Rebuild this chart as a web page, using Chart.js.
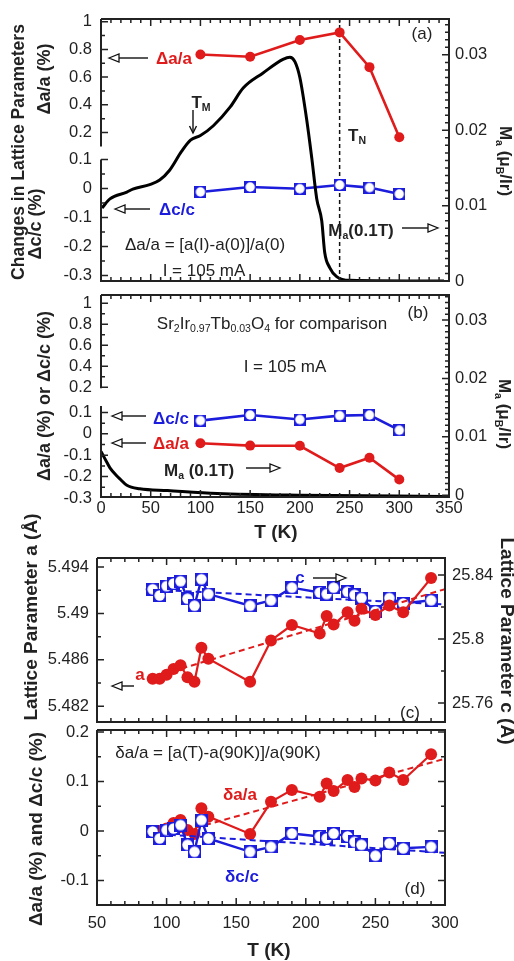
<!DOCTYPE html>
<html lang="en">
<head>
<meta charset="UTF-8">
<title>Lattice parameters under current</title>
<style>
  body { margin: 0; background: #fff; font-family: "Liberation Sans", Arial, sans-serif; color: #222; }
  #fig { position: relative; width: 514px; height: 961px; overflow: hidden; background: #fff; }
  .box { position: absolute; left: 0; width: 514px; }
  .t { position: absolute; white-space: nowrap; line-height: 1; font-size: 17px; transform: translate(-50%, -50%); }
  .b { font-weight: bold; }
  .ttl { font-weight: bold; font-size: 18px; }
  .up { transform: translate(-50%, -50%) rotate(-90deg); }
  .dn { transform: translate(-50%, -50%) rotate(90deg); }
  .red { color: #e01b1b; }
  .blue { color: #1c1cdc; }
  sub { font-size: 0.62em; vertical-align: -0.35em; line-height: 0; }
  svg { position: absolute; left: 0; top: 0; }
</style>
</head>
<body>
<div id="fig">
  <div class="box" style="top:0;height:300px"><canvas id="ca"></canvas></div>
  <div class="box" style="top:276px;height:254px"><canvas id="cb"></canvas></div>
  <div class="box" style="top:540px;height:200px"><canvas id="cc"></canvas></div>
  <div class="box" style="top:710px;height:225px"><canvas id="cd"></canvas></div>
  <svg id="arrows" width="514" height="961"></svg>

  <!-- panel (a) -->
  <div class="t ttl up" style="left:19px;top:152px;font-size:17.5px">Changes in Lattice Parameters</div>
  <div class="t ttl up" style="left:44px;top:79px">Δa/a (%)</div>
  <div class="t ttl up" style="left:35px;top:224px">Δc/c (%)</div>
  <div class="t" style="left:422px;top:33px">(a)</div>
  <div class="t b red" style="left:174px;top:58px">Δa/a</div>
  <div class="t b blue" style="left:177px;top:209px">Δc/c</div>
  <div class="t b" style="left:201px;top:102px">T<sub>M</sub></div>
  <div class="t b" style="left:357px;top:135px">T<sub>N</sub></div>
  <div class="t b" style="left:361px;top:230px">M<sub>a</sub>(0.1T)</div>
  <div class="t" style="left:205px;top:244px">Δa/a = [a(I)-a(0)]/a(0)</div>
  <div class="t" style="left:204px;top:270px">I = 105 mA</div>
  <div class="t b dn" style="left:505px;top:161px">M<sub>a</sub> (μ<sub>B</sub>/Ir)</div>

  <!-- panel (b) -->
  <div class="t ttl up" style="left:44px;top:396px">Δa/a (%) or Δc/c (%)</div>
  <div class="t" style="left:418px;top:312px">(b)</div>
  <div class="t" style="left:272px;top:323px">Sr<sub>2</sub>Ir<sub>0.97</sub>Tb<sub>0.03</sub>O<sub>4</sub> for comparison</div>
  <div class="t" style="left:285px;top:366px">I = 105 mA</div>
  <div class="t b blue" style="left:171px;top:418px">Δc/c</div>
  <div class="t b red" style="left:171px;top:443px">Δa/a</div>
  <div class="t b" style="left:199px;top:470px">M<sub>a</sub> (0.1T)</div>
  <div class="t b dn" style="left:504px;top:414px">M<sub>a</sub> (μ<sub>B</sub>/Ir)</div>
  <div class="t b" style="left:276px;top:531px;font-size:19px">T (K)</div>

  <!-- panel (c) -->
  <div class="t ttl up" style="left:30px;top:617px;font-size:19px">Lattice Parameter a (Å)</div>
  <div class="t ttl dn" style="left:507px;top:641px;font-size:19px">Lattice Parameter c (Å)</div>
  <div class="t b blue" style="left:300px;top:577px">c</div>
  <div class="t b red" style="left:140px;top:674px">a</div>
  <div class="t" style="left:410px;top:712px">(c)</div>

  <!-- panel (d) -->
  <div class="t ttl up" style="left:35px;top:829px;font-size:19px">Δa/a (%) and Δc/c (%)</div>
  <div class="t" style="left:218px;top:752px">δa/a = [a(T)-a(90K)]/a(90K)</div>
  <div class="t b red" style="left:240px;top:794px">δa/a</div>
  <div class="t b blue" style="left:242px;top:876px">δc/c</div>
  <div class="t" style="left:415px;top:888px">(d)</div>
  <div class="t b" style="left:269px;top:949px;font-size:19px">T (K)</div>
</div>

<script src="https://cdn.jsdelivr.net/npm/chart.js"></script>
<script>
  // ---- panel (a): Sr2IrO4, I = 105 mA
  const tA = [100, 150, 200, 240, 270, 300];
  const daA = [0.763, 0.747, 0.868, 0.923, 0.672, 0.166];
  const dcA = [-0.012, 0.005, -0.001, 0.012, 0.003, -0.019];
  const magTA = [1, 9, 26, 32, 49, 59, 69, 81, 90, 100, 113, 130, 143, 163, 183, 190, 195, 200, 207, 212, 217, 222, 225, 230, 237, 250, 345];
  const magA = [0.0097, 0.0109, 0.0118, 0.0122, 0.0128, 0.0134, 0.0147, 0.0172, 0.0187, 0.0193, 0.0206, 0.0231, 0.0256, 0.0276, 0.0294, 0.0297, 0.0291, 0.0270, 0.0213, 0.0163, 0.0109, 0.0080, 0.0038, 0.0018, 0.0006, 0.0001, 0];
  const tN = 240;

  // ---- panel (b): Sr2Ir0.97Tb0.03O4, I = 105 mA
  const tB = [100, 150, 200, 240, 270, 300];
  const daB = [-0.044, -0.055, -0.056, -0.160, -0.112, -0.214];
  const dcB = [0.062, 0.088, 0.067, 0.085, 0.088, 0.017];
  const magTB = [0, 6, 9, 16, 19, 26, 39, 67, 117, 201, 345];
  const magB = [0.0075, 0.0056, 0.0047, 0.0033, 0.0028, 0.0017, 0.0011, 0.0008, 0.0003, 0, -0.0002];

  // ---- panels (c) and (d): temperature scans
  const tC = [90, 95, 100, 105, 110, 115, 120, 125, 130, 160, 175, 190, 210, 215, 220, 230, 235, 240, 250, 260, 270, 290];
  const aC = [5.48437, 5.48437, 5.48472, 5.48521, 5.48554, 5.4845, 5.4841, 5.48704, 5.48609, 5.4841, 5.48767, 5.489, 5.48827, 5.48978, 5.48904, 5.4901, 5.48937, 5.4904, 5.48986, 5.49068, 5.4901, 5.49305];
  const cC = [25.8311, 25.8272, 25.8331, 25.8347, 25.8361, 25.8252, 25.8208, 25.8374, 25.8281, 25.8208, 25.8242, 25.8321, 25.8291, 25.8281, 25.8321, 25.8295, 25.8276, 25.8256, 25.8173, 25.8256, 25.8222, 25.8242];
  const aFitT = [90, 300], aFit = [5.4845, 5.4921];
  const cFitT = [85, 300], cFit = [25.8311, 25.8216];
  const daD = [0, 0, 0.005, 0.016, 0.022, 0.002, -0.006, 0.046, 0.029, -0.006, 0.059, 0.083, 0.069, 0.096, 0.081, 0.103, 0.089, 0.106, 0.102, 0.118, 0.103, 0.155];
  const dcD = [-0.001, -0.015, 0.002, 0.005, 0.012, -0.028, -0.042, 0.022, -0.015, -0.042, -0.032, -0.005, -0.011, -0.015, -0.005, -0.011, -0.022, -0.028, -0.05, -0.025, -0.035, -0.032];
  const daFitT = [93, 300], daFit = [-0.015, 0.146];
  const dcFitT = [88, 300], dcFit = [-0.005, -0.044];

  // ---- tick labels
  const xTopMajors = [0, 50, 100, 150, 200, 250, 300, 350];
  const xTopLabels = ['0', '50', '100', '150', '200', '250', '300', '350'];
  const xBotMajors = [50, 100, 150, 200, 250, 300];
  const xBotLabels = ['50', '100', '150', '200', '250', '300'];
  const brkMajors = [-0.3, -0.2, -0.1, 0, 0.1, 0.2, 0.4, 0.6, 0.8, 1];
  const brkLabels = ['-0.3', '-0.2', '-0.1', '0', '0.1', '0.2', '0.4', '0.6', '0.8', '1'];
  const magMajors = [0, 0.01, 0.02, 0.03];
  const magLabels = ['0', '0.01', '0.02', '0.03'];
  const aMajors = [5.482, 5.486, 5.49, 5.494];
  const aLabels = ['5.482', '5.486', '5.49', '5.494'];
  const cMajors = [25.76, 25.8, 25.84];
  const cLabels = ['25.76', '25.8', '25.84'];
  const dMajors = [-0.1, 0, 0.1, 0.2];
  const dLabels = ['-0.1', '0', '0.1', '0.2'];

  const RED = '#e01b1b', BLUE = '#1c1cdc', INK = '#222';
  const FONT = { family: '"Liberation Sans", Arial, sans-serif', size: 16.5 };

  // where the two pieces of the broken left axis sit (fraction of plot height)
  const BREAKS = {
    ca: { cut: 0.15, hi: [1, 0.2, 0.0108, 0.4332], lo: [0.1, -0.3, 0.5361, 0.9783], gap: [0.145, 0.1] },
    cb: { cut: 0.15, hi: [1, 0.2, 0.0409, 0.4567], lo: [0.1, -0.3, 0.5817, 1.0048], gap: [0.19, 0.13] }
  };

  class BrokenScale extends Chart.LinearScale {
    static id = 'broken';
    getPixelForValue(v) {
      const b = BREAKS[this.chart.canvas.id];
      const [v0, v1, f0, f1] = v >= b.cut ? b.hi : b.lo;
      return this.top + (f0 + (f1 - f0) * (v0 - v) / (v0 - v1)) * this.height;
    }
    getValueForPixel(p) {
      const b = BREAKS[this.chart.canvas.id];
      const f = (p - this.top) / this.height;
      const [v0, v1, f0, f1] = f <= (b.hi[3] + b.lo[2]) / 2 ? b.hi : b.lo;
      return v0 - (f - f0) * (v0 - v1) / (f1 - f0);
    }
  }
  Chart.register(BrokenScale);

  function tickList(segs, majors, labels) {
    const out = [];
    segs.forEach(([lo, hi, step]) => {
      for (let k = Math.ceil(lo / step - 1e-6); k * step <= hi + 1e-9; k++) {
        const v = +(k * step).toFixed(6);
        const m = majors.findIndex(u => Math.abs(u - v) < 1e-7);
        out.push({ value: v, major: m >= 0, lbl: m >= 0 ? labels[m] : '' });
      }
    });
    return out;
  }

  // inward tick marks and the frame round each plot
  const framePlugin = {
    id: 'frame',
    afterDatasetsDraw(chart) {
      const { ctx, chartArea: a, scales } = chart;
      ctx.save();
      ctx.strokeStyle = INK;
      ctx.lineWidth = 1.5;
      ctx.beginPath();
      Object.values(scales).forEach(s => {
        s.ticks.forEach(t => {
          const p = s.getPixelForValue(t.value);
          const L = t.major ? 7 : 4;
          if (s.axis === 'x') {
            if (p < a.left - 0.5 || p > a.right + 0.5) return;
            ctx.moveTo(p, a.bottom); ctx.lineTo(p, a.bottom - L);
            ctx.moveTo(p, a.top); ctx.lineTo(p, a.top + L);
          } else {
            if (p < a.top - 0.5 || p > a.bottom + 0.5) return;
            if (s.position === 'left') {
              ctx.moveTo(a.left, p); ctx.lineTo(a.left + L, p);
              if (s.options.mirrorTicks) { ctx.moveTo(a.right, p); ctx.lineTo(a.right - L, p); }
            } else {
              ctx.moveTo(a.right, p); ctx.lineTo(a.right - L, p);
            }
          }
        });
      });
      ctx.stroke();
      ctx.lineWidth = 2;
      ctx.beginPath();
      ctx.moveTo(a.left, a.top); ctx.lineTo(a.right, a.top);
      ctx.lineTo(a.right, a.bottom); ctx.lineTo(a.left, a.bottom);
      const b = BREAKS[chart.canvas.id];
      if (b) {
        ctx.lineTo(a.left, scales.y.getPixelForValue(b.gap[1]));
        ctx.moveTo(a.left, scales.y.getPixelForValue(b.gap[0]));
      }
      ctx.lineTo(a.left, a.top);
      ctx.stroke();
      ctx.restore();
    }
  };

  function axisBase(ticks, show, pad) {
    return {
      grid: { display: false, drawTicks: false },
      border: { display: false },
      ticks: { display: show, autoSkip: false, maxRotation: 0, padding: pad, font: FONT, color: INK,
               callback: (v, i, t) => t[i].lbl },
      afterBuildTicks: s => { s.ticks = ticks.map(t => Object.assign({}, t)); }
    };
  }
  function xAxis(min, max, ticks, height, show, pad) {
    return Object.assign(axisBase(ticks, show, pad), {
      type: 'linear', position: 'bottom', min, max, afterFit: s => { s.height = height; }
    });
  }
  function yAxis(type, pos, min, max, ticks, width, pad, mirror) {
    return Object.assign(axisBase(ticks, true, pad), {
      type, position: pos, min, max, mirrorTicks: !!mirror, afterFit: s => { s.width = width; }
    });
  }

  const pts = (xs, ys) => xs.map((x, i) => ({ x, y: ys[i] }));

  function openMark(s) {
    const c = document.createElement('canvas');
    c.width = c.height = s;
    const g = c.getContext('2d');
    g.fillStyle = BLUE;
    g.fillRect(0, 0, s, s);
    g.fillStyle = '#fff';
    g.beginPath(); g.arc(s / 2, s / 2, s / 2 - 1.3, 0, Math.PI * 2); g.fill();
    return c;
  }
  const markAB = openMark(12), markCD = openMark(13);

  const dots = (xs, ys, axis, r, w) => ({
    data: pts(xs, ys), yAxisID: axis, borderColor: RED, borderWidth: w,
    pointRadius: r, pointBackgroundColor: RED, pointBorderWidth: 0
  });
  const boxes = (xs, ys, axis, mark, w) => ({
    data: pts(xs, ys), yAxisID: axis, borderColor: BLUE, borderWidth: w,
    pointStyle: mark, pointRadius: 6
  });
  const dashed = (xs, ys, axis, color) => ({
    data: pts(xs, ys), yAxisID: axis, borderColor: color, borderWidth: 2,
    borderDash: [6, 4], pointRadius: 0
  });
  const magCurve = (xs, ys) => ({
    data: pts(xs, ys), yAxisID: 'yM', borderColor: '#000', borderWidth: 3,
    pointRadius: 0, cubicInterpolationMode: 'monotone'
  });

  function panel(id, padding, scales, datasets) {
    return new Chart(document.getElementById(id), {
      type: 'line',
      data: { datasets },
      options: {
        responsive: true, maintainAspectRatio: false, animation: false, events: [],
        layout: { padding },
        plugins: { legend: { display: false }, tooltip: { enabled: false } },
        scales
      },
      plugins: [framePlugin]
    });
  }

  const xTicksTop = tickList([[0, 350, 10]], xTopMajors, xTopLabels);
  const brkTicks = tickList([[-0.3, 0.1, 0.05], [0.2, 1, 0.1]], brkMajors, brkLabels);
  const magTicks = tickList([[0, 0.034, 0.001]], magMajors, magLabels);
  const xTicksBot = tickList([[50, 300, 10]], xBotMajors, xBotLabels);
  const aTicks = tickList([[5.4808, 5.4948, 0.002]], aMajors, aLabels);
  const cTicks = tickList([[25.748, 25.8507, 0.02]], cMajors, cLabels);
  const dTicks = tickList([[-0.15, 0.2, 0.05]], dMajors, dLabels);

  const magTopA = 0.03477;
  panel('ca', { top: 10, left: 0, right: 0, bottom: 0 }, {
    x: xAxis(0, 350, xTicksTop, 13, false, 2),
    y: yAxis('broken', 'left', -0.32, 1.02, brkTicks, 101, 9),
    yM: yAxis('linear', 'right', 0, magTopA, magTicks, 65, 6)
  }, [
    magCurve(magTA, magA),
    dots(tA, daA, 'y', 5, 2.6),
    boxes(tA, dcA, 'y', markAB, 2.6),
    dashed([tN, tN], [0, magTopA], 'yM', '#111')
  ]);
  // the T_N marker is drawn finer than the fit lines
  Chart.getChart('ca').data.datasets[3].borderDash = [4, 3];
  Chart.getChart('ca').data.datasets[3].borderWidth = 1.5;
  Chart.getChart('ca').update();

  panel('cb', { top: 13, left: 0, right: 0, bottom: 0 }, {
    x: xAxis(0, 350, xTicksTop, 33, true, 2),
    y: yAxis('broken', 'left', -0.3, 1.02, brkTicks, 101, 9),
    yM: yAxis('linear', 'right', -0.0003, 0.0343, magTicks, 65, 6)
  }, [
    magCurve(magTB, magB),
    dots(tB, daB, 'y', 5, 2.6),
    boxes(tB, dcB, 'y', markAB, 2.6)
  ]);

  panel('cc', { top: 17, left: 0, right: 0, bottom: 0 }, {
    x: xAxis(50, 300, xTicksBot, 10, false, 2),
    y: yAxis('linear', 'left', 5.48063, 5.49479, aTicks, 97, 8),
    y2: yAxis('linear', 'right', 25.74815, 25.85067, cTicks, 69, 7)
  }, [
    dots(tC, aC, 'y', 6, 2.2),
    dashed(aFitT, aFit, 'y', RED),
    boxes(tC, cC, 'y2', markCD, 2.4),
    dashed(cFitT, cFit, 'y2', BLUE)
  ]);

  panel('cd', { top: 20, left: 0, right: 69, bottom: 0 }, {
    x: xAxis(50, 300, xTicksBot, 30, true, 9),
    y: yAxis('linear', 'left', -0.1495, 0.204, dTicks, 97, 8, true)
  }, [
    boxes(tC, dcD, 'y', markCD, 2.4),
    dashed(dcFitT, dcFit, 'y', BLUE),
    dots(tC, daD, 'y', 6, 2.2),
    dashed(daFitT, daFit, 'y', RED)
  ]);

  // pointer arrows: [x1, y1, tipX, tipY, kind]
  const arrows = [
    [148, 58, 109, 58, 'o'], [150, 209, 115, 209, 'o'], [402, 228, 438, 228, 'o'], [193, 110, 193, 133, 'v'],
    [146, 416, 112, 416, 'o'], [146, 443, 112, 443, 'o'], [246, 468, 280, 468, 'o'],
    [313, 578, 346, 578, 'o'], [134, 686, 112, 686, 'o']
  ];
  const svg = document.getElementById('arrows');
  const NS = 'http://www.w3.org/2000/svg';
  function el(name, attrs) {
    const e = document.createElementNS(NS, name);
    Object.entries(attrs).forEach(([k, v]) => e.setAttribute(k, v));
    svg.appendChild(e);
    return e;
  }
  arrows.forEach(([x1, y1, x2, y2, kind]) => {
    const len = Math.hypot(x2 - x1, y2 - y1), ux = (x2 - x1) / len, uy = (y2 - y1) / len;
    if (kind === 'o') {
      const bx = x2 - ux * 10, by = y2 - uy * 10;
      el('line', { x1, y1, x2: bx, y2: by, stroke: '#111', 'stroke-width': 1.4 });
      const pts = [[x2, y2], [bx - uy * 4, by + ux * 4], [bx + uy * 4, by - ux * 4]].map(p => p.join(',')).join(' ');
      el('polygon', { points: pts, fill: '#fff', stroke: '#111', 'stroke-width': 1.3 });
    } else {
      el('line', { x1, y1, x2, y2, stroke: '#111', 'stroke-width': 1.4 });
      const d = `M${x2 - ux * 7 - uy * 3.5},${y2 - uy * 7 + ux * 3.5} L${x2},${y2} L${x2 - ux * 7 + uy * 3.5},${y2 - uy * 7 - ux * 3.5}`;
      el('path', { d, fill: 'none', stroke: '#111', 'stroke-width': 1.4 });
    }
  });
</script>
</body>
</html>
